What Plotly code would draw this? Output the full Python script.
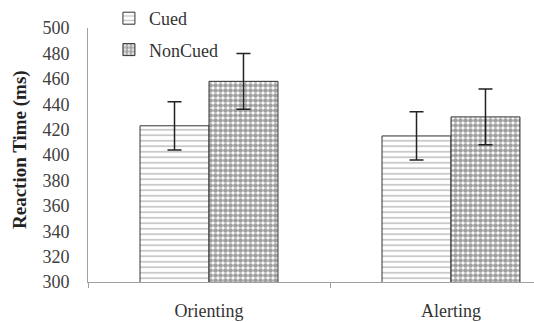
import plotly.graph_objects as go

categories = ["Orienting", "Alerting"]
cued = [423, 415]
cued_err = [19, 19]
noncued = [458, 430]
noncued_err = [22, 22]

FONT = "Liberation Serif, Times New Roman, serif"

fig = go.Figure()
fig.add_trace(go.Bar(
    name="Cued", x=categories, y=cued, legendgroup="a",
    marker=dict(color="white", line=dict(color="#333333", width=1),
                pattern=dict(shape="-", size=5.5, solidity=0.3, fgcolor="#8a8a8a", bgcolor="white")),
    error_y=dict(type="data", array=cued_err, color="#222222", thickness=1.5, width=7),
))
fig.add_trace(go.Bar(
    name="NonCued", x=categories, y=noncued, legendgroup="b",
    marker=dict(color="white", line=dict(color="#333333", width=1),
                pattern=dict(shape=".", size=5, solidity=0.7, fgcolor="#404040", bgcolor="white")),
    error_y=dict(type="data", array=noncued_err, color="#222222", thickness=1.5, width=7),
))

fig.update_layout(
    width=534, height=322,
    margin=dict(l=88, r=0, t=28, b=40, autoexpand=False),
    paper_bgcolor="white", plot_bgcolor="white",
    barmode="group", bargap=0.43, bargroupgap=0,
    font=dict(family=FONT, size=18, color="#333333"),
    showlegend=True,
    legend=dict(x=0.204, y=1.0, xref="container", yref="container",
                xanchor="left", yanchor="top", tracegroupgap=5,
                bgcolor="rgba(0,0,0,0)", font=dict(family=FONT, size=18, color="#333333")),
    annotations=[dict(text="<b>Reaction Time (ms)</b>", textangle=-90,
                      xref="paper", yref="paper", x=-0.1525, y=0.5236,
                      xanchor="center", yanchor="middle", showarrow=False,
                      font=dict(family=FONT, size=19, color="#222222"))],
)
fig.update_xaxes(
    range=[-0.5, 1.343], showline=True, linecolor="#a0a0a0", linewidth=1,
    ticks="outside", tickson="boundaries", ticklen=5, tickcolor="#a0a0a0",
    ticklabelstandoff=12, showgrid=False, automargin=False,
    tickfont=dict(family=FONT, size=18, color="#333333"),
)
fig.update_yaxes(
    range=[300, 500], dtick=20, showline=True, linecolor="#a0a0a0", linewidth=1,
    ticks="", showgrid=False, zeroline=False, ticklabelstandoff=14, automargin=False,
    tickfont=dict(family=FONT, size=18, color="#404040"),
)

fig.write_html("out.html", config={"displayModeBar": False},
               post_script="document.body.style.margin='0px';")
